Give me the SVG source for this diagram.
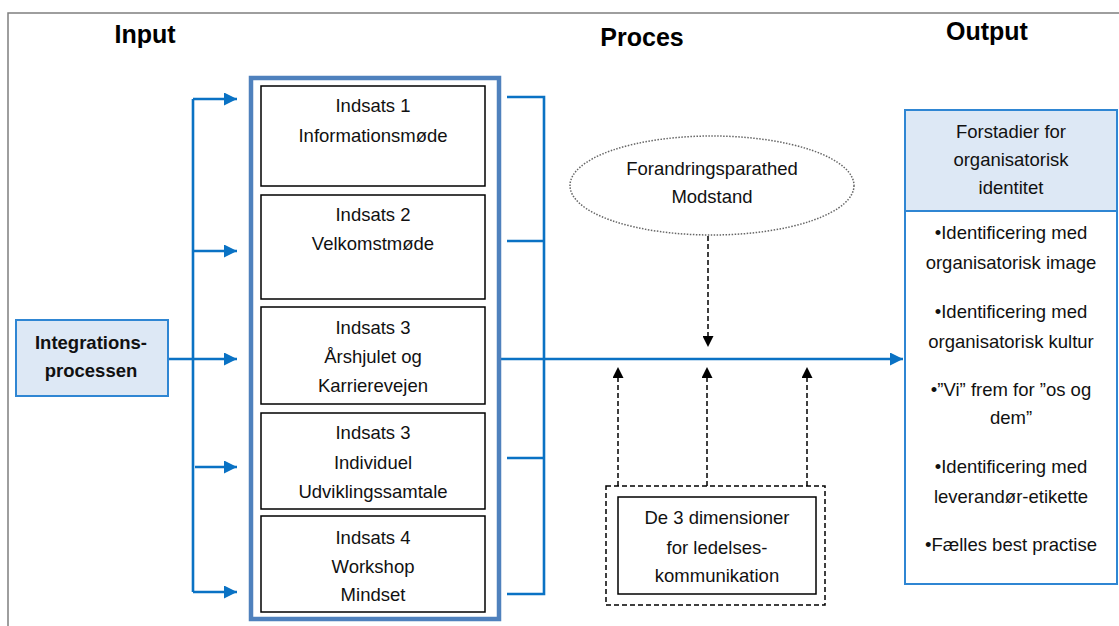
<svg xmlns="http://www.w3.org/2000/svg" width="1119" height="626" viewBox="0 0 1119 626">
<style>
.t{font-family:"Liberation Sans",Arial,sans-serif;font-size:18.5px;fill:#111;text-anchor:middle}
.b{font-weight:bold}
.h{font-family:"Liberation Sans",Arial,sans-serif;font-size:25px;font-weight:bold;fill:#000;text-anchor:middle}
.c{fill:none;stroke:#0a72c4;stroke-width:2.6}
.d{fill:none;stroke:#000;stroke-width:1.5;stroke-dasharray:5 3}
.box{fill:#fff;stroke:#000;stroke-width:1.5}
</style>
<defs>
<marker id="ab" viewBox="0 0 10 10" refX="10" refY="5" markerWidth="14" markerHeight="13" markerUnits="userSpaceOnUse" orient="auto"><path d="M0,0 L10,5 L0,10 z" fill="#0a72c4"/></marker>
<marker id="ak" viewBox="0 0 10 10" refX="10" refY="5" markerWidth="12" markerHeight="11" markerUnits="userSpaceOnUse" orient="auto"><path d="M0,0 L10,5 L0,10 z" fill="#000"/></marker>
</defs>
<rect width="1119" height="626" fill="#fff"/>
<path d="M8,626 V13 H1119" fill="none" stroke="#7f7f7f" stroke-width="1.5"/>
<g id="titles">
<text class="h" x="145" y="43">Input</text>
<text class="h" x="642" y="46">Proces</text>
<text class="h" x="987" y="40">Output</text>
</g>
<g id="connectors">
<path class="c" d="M193,99 V592"/>
<path class="c" d="M193,99 H237" marker-end="url(#ab)"/>
<path class="c" d="M193,251 H237" marker-end="url(#ab)"/>
<path class="c" d="M168,359 H237" marker-end="url(#ab)"/>
<path class="c" d="M195,467 H237" marker-end="url(#ab)"/>
<path class="c" d="M193,592 H237" marker-end="url(#ab)"/>
<path class="c" d="M507,97 H544 V594 H507"/>
<path class="c" d="M507,241 H544"/>
<path class="c" d="M507,458 H544"/>
<path class="c" d="M501,359 H903" marker-end="url(#ab)"/>
<path class="d" d="M708,236 V347" marker-end="url(#ak)"/>
<path class="d" d="M618,486 V367" marker-end="url(#ak)"/>
<path class="d" d="M707,486 V367" marker-end="url(#ak)"/>
<path class="d" d="M807,486 V367" marker-end="url(#ak)"/>
</g>
<g id="integration">
<rect x="16" y="320" width="152" height="76" fill="#dde8f5" stroke="#2f86d3" stroke-width="2"/>
<text class="t b" x="91" y="349">Integrations-</text>
<text class="t b" x="91" y="377">processen</text>
</g>
<g id="process-frame">
<rect x="251" y="78" width="248" height="541" fill="none" stroke="#4f81bd" stroke-width="4.5"/>
</g>
<g id="indsats1">
<rect class="box" x="261" y="86" width="224" height="100"/>
<text class="t" x="373" y="112">Indsats 1</text>
<text class="t" x="373" y="142">Informationsmøde</text>
</g>
<g id="indsats2">
<rect class="box" x="261" y="195" width="224" height="104"/>
<text class="t" x="373" y="221">Indsats 2</text>
<text class="t" x="373" y="250">Velkomstmøde</text>
</g>
<g id="indsats3a">
<rect class="box" x="261" y="307" width="224" height="97"/>
<text class="t" x="373" y="334">Indsats 3</text>
<text class="t" x="373" y="363">Årshjulet og</text>
<text class="t" x="373" y="392">Karrierevejen</text>
</g>
<g id="indsats3b">
<rect class="box" x="261" y="413" width="224" height="96"/>
<text class="t" x="373" y="439">Indsats 3</text>
<text class="t" x="373" y="469">Individuel</text>
<text class="t" x="373" y="498">Udviklingssamtale</text>
</g>
<g id="indsats4">
<rect class="box" x="261" y="516" width="224" height="96"/>
<text class="t" x="373" y="544">Indsats 4</text>
<text class="t" x="373" y="573">Workshop</text>
<text class="t" x="373" y="601">Mindset</text>
</g>
<g id="forandring">
<ellipse cx="712" cy="185.5" rx="142" ry="49.5" fill="#fff" stroke="#666" stroke-width="1.5" stroke-dasharray="1.5 1.5"/>
<text class="t" x="712" y="175">Forandringsparathed</text>
<text class="t" x="712" y="203">Modstand</text>
</g>
<g id="dimensioner">
<rect x="606" y="486" width="219" height="119" fill="none" stroke="#000" stroke-width="1.5" stroke-dasharray="5 3"/>
<rect class="box" x="618" y="497" width="198" height="97"/>
<text class="t" x="717" y="524">De 3 dimensioner</text>
<text class="t" x="717" y="554">for ledelses-</text>
<text class="t" x="717" y="582">kommunikation</text>
</g>
<g id="output">
<rect x="905" y="110" width="212" height="474" fill="#fff" stroke="#2f86d3" stroke-width="2"/>
<rect x="905" y="110" width="212" height="101" fill="#dde8f5" stroke="#2f86d3" stroke-width="2"/>
<text class="t" x="1011" y="138">Forstadier for</text>
<text class="t" x="1011" y="166">organisatorisk</text>
<text class="t" x="1011" y="194">identitet</text>
<text class="t" x="1011" y="239">•Identificering med</text>
<text class="t" x="1011" y="269">organisatorisk image</text>
<text class="t" x="1011" y="318">•Identificering med</text>
<text class="t" x="1011" y="348">organisatorisk kultur</text>
<text class="t" x="1011" y="396">•”Vi” frem for ”os og</text>
<text class="t" x="1011" y="424">dem”</text>
<text class="t" x="1011" y="473">•Identificering med</text>
<text class="t" x="1011" y="503">leverandør-etikette</text>
<text class="t" x="1011" y="551">•Fælles best practise</text>
</g>
</svg>
